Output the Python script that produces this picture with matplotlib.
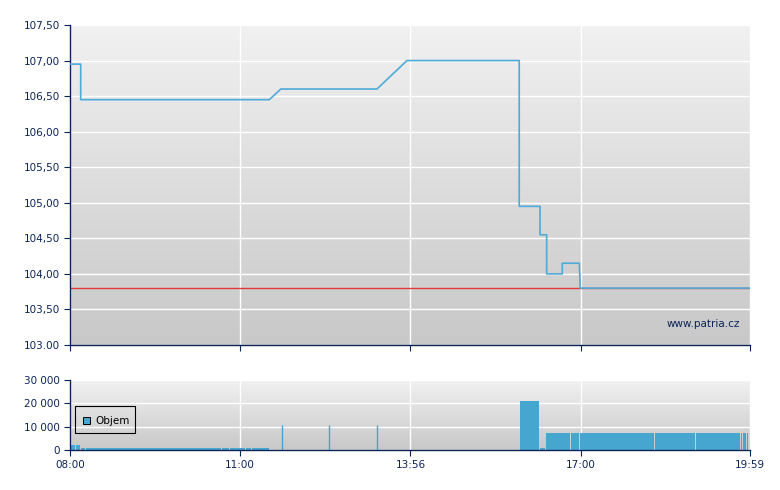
import numpy as np
import matplotlib
matplotlib.use("Agg")
import matplotlib.pyplot as plt
from matplotlib.patches import Rectangle

# ---------------- data ----------------
# time in minutes after 08:00 (axis runs 08:00 .. 19:59)
price_t = [0, 11.3, 11.3, 210.7, 223, 324.6, 356.3, 475, 475, 497, 497, 504, 504,
           520.5, 520.5, 538.5, 539.5, 719]
price_v = [106.95, 106.95, 106.45, 106.45, 106.60, 106.60, 107.00, 107.00, 104.95,
           104.95, 104.55, 104.55, 104.00, 104.00, 104.15, 104.15, 103.80, 103.80]
prev_close = 103.80

# volume bars: start minute, end minute, volume
vol_start = [0.7, 6.3, 11.6, 16.9, 51.1, 160.7, 169.2, 172.7, 186.1, 192.1,
             475.8, 497.0,
             503.3, 529.8, 539.3, 618.6, 631.7, 648.6, 661.7, 668.7, 684.6, 686.3,
             702.5, 706.8, 709.3, 711.4, 713.9, 715.7, 717.8]
vol_end = vol_start[1:10] + [211.5] + [497.0, 503.3] + vol_start[13:] + [718.6]
vol_value = [2000, 2000, 900, 900, 900, 900, 900, 900, 900, 900,
             21000, 900,
             7400, 7400, 7400, 7400, 7400, 7400, 7400, 7400, 7400, 7400,
             7400, 7400, 7400, 7400, 7400, 7400, 7400]
spike_t = [223.9, 273.9, 324.6]
spike_v = [10700, 10700, 10700]

xtick_pos = [0, 180, 360, 540, 719]
xtick_lab = ["08:00", "11:00", "13:56", "17:00", "19:59"]
ytick_pos = [103.0, 103.5, 104.0, 104.5, 105.0, 105.5, 106.0, 106.5, 107.0, 107.5]
ytick_lab = ["103.00", "103,50", "104,00", "104,50", "105,00", "105,50",
             "106,00", "106,50", "107,00", "107,50"]
vtick_pos = [0, 10000, 20000, 30000]
vtick_lab = ["0", "10 000", "20 000", "30 000"]

# ---------------- style ----------------
NAVY = "#0b2458"
LINE = "#4eaad8"
BAR = "#47a6cf"
RED = "#e23a3a"
FS = 7.5

fig = plt.figure(figsize=(7.8, 4.9), dpi=100)
fig.patch.set_facecolor("white")

L, W = 70 / 780, 680 / 780
ax = fig.add_axes([L, 1 - 345 / 490, W, 320 / 490])
axv = fig.add_axes([L, 1 - 450 / 490, W, 70 / 490])

grad = np.linspace(0, 1, 256).reshape(-1, 1)


def style(a):
    a.imshow(grad, extent=(0, 1, 0, 1), transform=a.transAxes, aspect="auto",
             cmap=matplotlib.colors.LinearSegmentedColormap.from_list(
                 "g", ["#f1f1f1", "#c8c8c8"]), zorder=0, origin="upper")
    for s in ["top", "right"]:
        a.spines[s].set_visible(False)
    for s in ["left", "bottom"]:
        a.spines[s].set_color(NAVY)
        a.spines[s].set_linewidth(1.0)
    a.tick_params(colors=NAVY, labelcolor=NAVY, labelsize=FS, length=4,
                  width=0.8, direction="out")
    a.grid(True, color="white", linewidth=1.0, zorder=1)
    a.set_axisbelow(True)
    a.set_xlim(0, 719)


style(ax)
ax.set_ylim(103.0, 107.5)
ax.set_yticks(ytick_pos)
ax.set_yticklabels(ytick_lab)
ax.set_xticks(xtick_pos)
ax.set_xticklabels([])
ax.axhline(prev_close, color=RED, linewidth=1.0, zorder=2)
ax.plot(price_t, price_v, color=LINE, linewidth=1.2, zorder=3)
ax.text(0.985, 0.065, "www.patria.cz", transform=ax.transAxes, ha="right",
        va="center", color=NAVY, fontsize=FS)

style(axv)
axv.set_ylim(0, 30000)
axv.set_yticks(vtick_pos)
axv.set_yticklabels(vtick_lab)
axv.set_xticks(xtick_pos)
axv.set_xticklabels(xtick_lab)
for s, e, v in zip(vol_start, vol_end, vol_value):
    axv.bar(s, v, width=max(e - s - 0.6, 0.6), align="edge", color=BAR,
            linewidth=0, zorder=2, antialiased=False)
axv.vlines(spike_t, 0, spike_v, color=BAR, linewidth=1.0, zorder=2)

# legend
axv.add_patch(Rectangle((5 / 680, 0.24), 60 / 680, 0.39, transform=axv.transAxes,
                        facecolor="none", edgecolor="black", linewidth=0.8,
                        zorder=4))
axv.add_patch(Rectangle((13 / 680, 0.37), 7 / 680, 0.1, transform=axv.transAxes,
                        facecolor=BAR, edgecolor="black", linewidth=0.7,
                        zorder=5))
axv.text(25 / 680, 0.42, "Objem", transform=axv.transAxes, va="center",
         ha="left", color="black", fontsize=FS, zorder=5)

fig.savefig("out.png", dpi=100)
